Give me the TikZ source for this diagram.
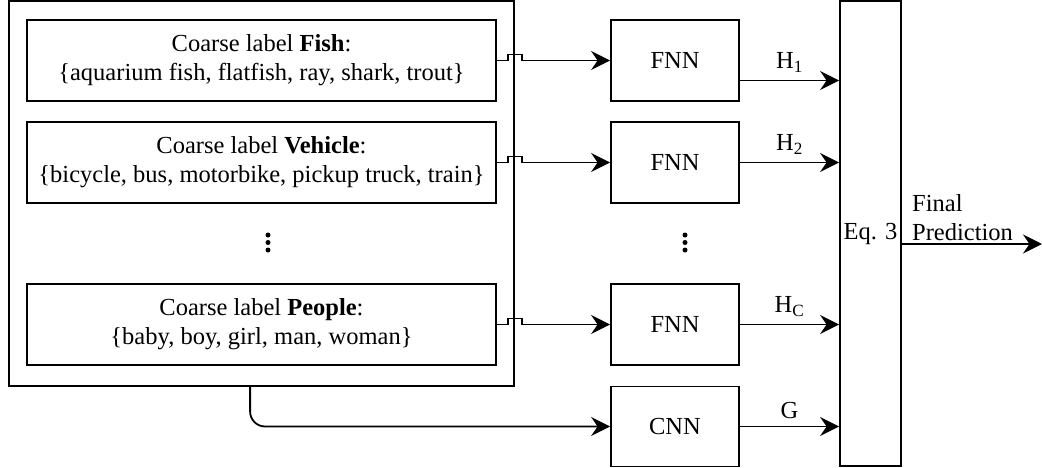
\documentclass[tikz,border=0pt]{standalone}
\usepackage{fontspec}
\setmainfont{Liberation Serif}
\usetikzlibrary{arrows.meta}
\begin{document}
\begin{tikzpicture}[x=1pt,y=-1pt,
  lw/.style={line width=1.8pt},
  box/.style={draw, lw, inner sep=0pt, align=center, font=\fontsize{24.5}{29}\selectfont},
  txt/.style={inner sep=0pt, font=\fontsize{24.5}{29}\selectfont},
  arr/.style={lw, -{Stealth[length=19pt,width=19pt,inset=6.5pt]}},
  dots/.style={circle, fill, inner sep=0pt, minimum size=5pt}]
\useasboundingbox (0,0) rectangle (1042,467);
% outer box
\node[box, minimum width=505, minimum height=385] (outer) at (261.5,193.5) {};
% inner boxes
\node[box, minimum width=469, minimum height=81] (fish) at (261.5,60.5)
  {Coarse label \textbf{Fish}:\\\{aquarium fish, flatfish, ray, shark, trout\}};
\node[box, minimum width=469, minimum height=81] (veh) at (261.5,162.5)
  {Coarse label \textbf{Vehicle}:\\\{bicycle, bus, motorbike, pickup truck, train\}};
\node[box, minimum width=469, minimum height=81] (ppl) at (261.5,324.5)
  {Coarse label \textbf{People}:\\\{baby, boy, girl, man, woman\}};
\node[dots] (d1) at (268,235) {};
\node[dots] (d2) at (268,242.5) {};
\node[dots] (d3) at (268,250) {};
% FNN / CNN
\node[box, minimum width=128, minimum height=81] (f1) at (675,60.5) {FNN};
\node[box, minimum width=128, minimum height=81] (f2) at (675,162.5) {FNN};
\node[box, minimum width=128, minimum height=81] (fc) at (675,324.5) {FNN};
\node[box, minimum width=128, minimum height=80] (cnn) at (675,426.5) {CNN};
\node[dots] (e1) at (685,235) {};
\node[dots] (e2) at (685,242.5) {};
\node[dots] (e3) at (685,250) {};
% Eq box
\node[box, minimum width=61, minimum height=465] (eq) at (870.5,233.5) {Eq. 3};
% connectors with jumps
\foreach \s/\t in {fish/f1, veh/f2, ppl/fc}{
  \draw[arr] (\s.east) -- ([xshift=-7pt]outer.east |- \s.east) -- ++(0,-6) -- ++(14,0) -- ++(0,6) -- (\t.west);
}
% CNN connector
\draw[arr, rounded corners=15pt] ([xshift=242pt]outer.south west) |- (cnn.west);
% outputs
\draw[arr] ([yshift=-20pt]f1.east) -- ([yshift=-20pt]f1.east -| eq.west) node[txt, midway, above=7pt] {H\textsubscript{1}};
\draw[arr] (f2.east) -- (f2.east -| eq.west) node[txt, midway, above=7pt] {H\textsubscript{2}};
\draw[arr] (fc.east) -- (fc.east -| eq.west) node[txt, midway, above=7pt] {H\textsubscript{C}};
\draw[arr] (cnn.east) -- (cnn.east -| eq.west) node[txt, midway, above=7pt] {G};
% final
\coordinate (fin) at (1042,244);
\draw[arr] (eq.east |- fin) -- (fin);
\node[txt, anchor=south west, align=left] (fp) at (912,241) {Final\\Prediction};
\end{tikzpicture}
\end{document}
